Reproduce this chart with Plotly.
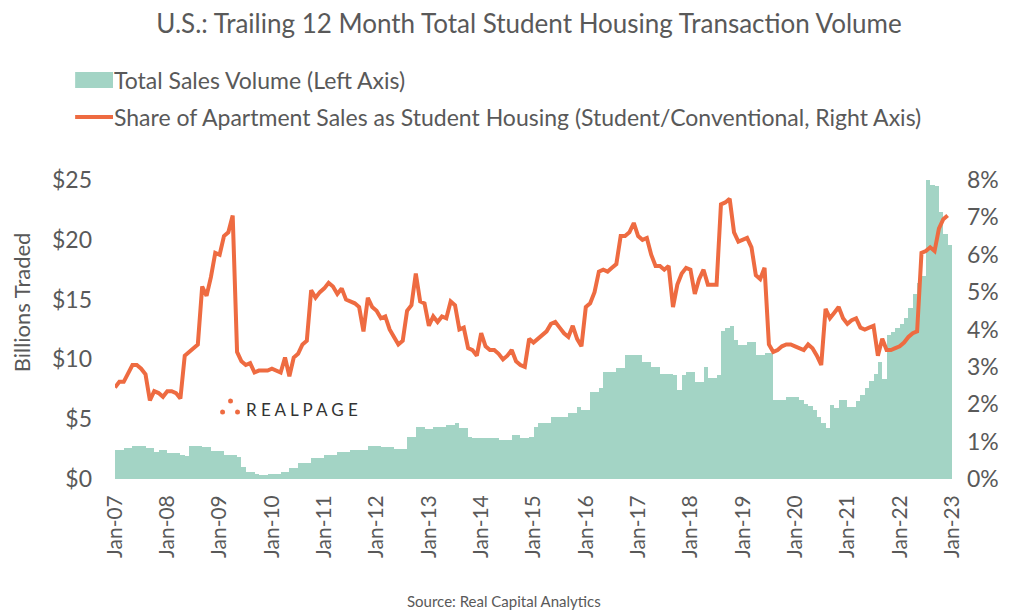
"""Trailing 12 month student housing transaction volume (bars) vs share of apartment sales (line)."""

import plotly.graph_objects as go

TEAL = "#A3D4C5"
ORANGE = "#EE6B41"
TEXT = "#595959"
FONT = "Lato"

# monthly values, Jan-07 .. Dec-22 (one row per year)
volume_bn = [
    2.4, 2.4, 2.6, 2.6, 2.75, 2.75, 2.75, 2.6, 2.6, 2.25, 2.4, 2.4,        # 2007
    2.15, 2.15, 2.15, 2.0, 1.95, 2.75, 2.75, 2.75, 2.65, 2.65, 2.3, 2.3,   # 2008
    2.3, 2.0, 2.0, 2.0, 1.85, 1.0, 0.6, 0.6, 0.45, 0.35, 0.35, 0.45,       # 2009
    0.45, 0.45, 0.6, 0.6, 0.9, 0.9, 1.3, 1.3, 1.3, 1.75, 1.75, 1.75,       # 2010
    2.0, 2.0, 2.0, 2.25, 2.25, 2.25, 2.4, 2.4, 2.4, 2.4, 2.75, 2.75,       # 2011
    2.75, 2.7, 2.7, 2.65, 2.5, 2.5, 2.5, 3.5, 3.5, 4.35, 4.35, 4.15,       # 2012
    4.15, 4.35, 4.35, 4.35, 4.5, 4.55, 4.65, 4.3, 4.25, 3.5, 3.45, 3.4,    # 2013
    3.4, 3.4, 3.4, 3.4, 3.25, 3.25, 3.25, 3.7, 3.7, 3.4, 3.4, 3.5,         # 2014
    4.35, 4.65, 4.65, 4.65, 5.2, 5.2, 5.2, 5.2, 5.5, 5.5, 6.0, 5.75,       # 2015
    5.75, 7.3, 7.3, 7.6, 8.95, 8.95, 8.95, 9.3, 9.3, 10.4, 10.4, 10.4,     # 2016
    10.4, 9.8, 9.8, 9.35, 9.35, 8.75, 8.75, 8.75, 8.7, 7.45, 8.7, 8.95,    # 2017
    8.95, 8.1, 8.1, 9.35, 8.45, 8.45, 8.7, 12.4, 12.6, 12.8, 11.6, 11.2,   # 2018
    11.2, 11.45, 11.45, 10.4, 10.4, 10.5, 10.5, 6.6, 6.6, 6.6, 6.85, 6.85, # 2019
    6.85, 6.6, 6.3, 6.1, 5.75, 5.2, 4.65, 4.3, 6.2, 5.9, 6.6, 6.6,         # 2020
    6.0, 6.0, 6.5, 7.0, 7.6, 8.2, 8.8, 9.8, 8.4, 12.0, 12.3, 12.6,         # 2021
    13.0, 13.5, 14.3, 15.5, 16.4, 17.0, 25.2, 24.6, 24.5, 22.3, 20.5, 19.6, # 2022
]

student_share_pct = [
    2.45, 2.6, 2.6, 2.8, 3.05, 3.05, 2.95, 2.8, 2.1, 2.35, 2.3, 2.2,       # 2007
    2.35, 2.35, 2.3, 2.15, 3.3, 3.4, 3.5, 3.6, 5.15, 4.9, 5.4, 6.05,       # 2008
    6.0, 6.5, 6.6, 7.05, 3.4, 3.15, 3.05, 3.1, 2.85, 2.9, 2.9, 2.9,        # 2009
    2.95, 2.9, 2.85, 3.25, 2.75, 3.25, 3.35, 3.6, 3.7, 5.05, 4.85, 5.0,    # 2010
    5.1, 5.25, 5.15, 4.95, 5.1, 4.8, 4.75, 4.7, 4.6, 3.95, 4.85, 4.6,      # 2011
    4.5, 4.3, 4.35, 4.0, 3.8, 3.6, 3.7, 4.5, 4.65, 5.5, 4.75, 4.7,         # 2012
    4.1, 4.35, 4.2, 4.35, 4.3, 4.75, 4.65, 4.0, 4.05, 3.5, 3.45, 3.3,      # 2013
    3.9, 3.55, 3.45, 3.45, 3.35, 3.2, 3.3, 3.45, 3.15, 3.05, 3.0, 3.75,    # 2014
    3.65, 3.75, 3.85, 3.95, 4.15, 4.2, 4.05, 3.9, 3.8, 4.1, 3.75, 3.55,    # 2015
    4.6, 4.7, 5.0, 5.55, 5.6, 5.55, 5.65, 5.75, 6.5, 6.5, 6.6, 6.85,       # 2016
    6.5, 6.4, 6.45, 6.0, 5.7, 5.7, 5.6, 5.7, 4.6, 5.2, 5.5, 5.65,          # 2017
    5.6, 4.95, 5.35, 5.6, 5.2, 5.2, 5.2, 7.35, 7.4, 7.5, 6.6, 6.35,        # 2018
    6.4, 6.45, 6.2, 5.45, 5.35, 5.65, 3.6, 3.4, 3.45, 3.55, 3.6, 3.6,      # 2019
    3.55, 3.5, 3.45, 3.6, 3.5, 3.3, 3.05, 4.55, 4.3, 4.45, 4.6, 4.3,       # 2020
    4.15, 4.25, 4.3, 4.05, 4.0, 4.05, 4.1, 3.3, 3.75, 3.45, 3.45, 3.5,     # 2021
    3.55, 3.65, 3.8, 3.9, 3.95, 6.05, 6.1, 6.2, 6.1, 6.7, 6.95, 7.05,      # 2022
]

year_labels = ["Jan-%02d" % y for y in range(7, 24)]
left_ticks = [0, 5, 10, 15, 20, 25]
right_ticks = [0, 1, 2, 3, 4, 5, 6, 7, 8]

months = list(range(len(volume_bn)))

# the page body has an 8px margin, so the figure is drawn 8px smaller
PAGE_W, PAGE_H, BODY = 1011, 613, 8
W, H = PAGE_W - BODY, PAGE_H - BODY
# plot area in page pixels
PL, PR, PT, PB = 115, 955, 180, 479


def px_x(px):
    return (px - PL) / (PR - PL)


def px_y(py):
    return (PB - py) / (PB - PT)


fig = go.Figure()

fig.add_trace(go.Bar(
    name="Total Sales Volume (Left Axis)",
    x=[m + 0.5 for m in months],
    y=volume_bn,
    width=1,
    marker=dict(color=TEAL, line=dict(width=0)),
    hovertemplate="$%{y:.1f}B<extra></extra>",
))

fig.add_trace(go.Scatter(
    name="Share of Apartment Sales as Student Housing (Student/Conventional, Right Axis)",
    x=months,
    y=student_share_pct,
    yaxis="y2",
    mode="lines",
    line=dict(color=ORANGE, width=4),
    hovertemplate="%{y:.2f}%<extra></extra>",
))

fig.update_layout(
    width=W,
    height=H,
    margin=dict(l=PL - BODY, r=PAGE_W - PR, t=PT - BODY, b=PAGE_H - PB),
    paper_bgcolor="white",
    plot_bgcolor="white",
    showlegend=False,
    bargap=0,
    font=dict(family=FONT, color=TEXT, size=20),
    title=dict(
        text="U.S.: Trailing 12 Month Total Student Housing Transaction Volume",
        x=(529 - BODY) / W, xanchor="center",
        y=1 - (24 - BODY) / H, yanchor="middle",
        font=dict(family=FONT, size=26, color=TEXT),
    ),
    xaxis=dict(
        range=[0, len(months)],
        tickvals=[12 * i for i in range(len(year_labels))],
        ticktext=year_labels,
        tickangle=-90,
        tickfont=dict(size=21, color=TEXT),
        showgrid=False, zeroline=False, showline=False, ticks="",
        ticklabelstandoff=11,
    ),
    yaxis=dict(
        range=[0, 25],
        tickvals=left_ticks,
        ticktext=["$%d" % v for v in left_ticks],
        tickfont=dict(size=23, color=TEXT),
        showgrid=False, zeroline=False, showline=False, ticks="",
        ticklabelstandoff=22,
    ),
    yaxis2=dict(
        range=[0, 8],
        overlaying="y",
        side="right",
        tickvals=right_ticks,
        ticktext=["%d%%" % v for v in right_ticks],
        tickfont=dict(size=23, color=TEXT),
        showgrid=False, zeroline=False, showline=False, ticks="",
        ticklabelstandoff=14,
    ),
)

# left axis title
fig.add_annotation(text="Billions Traded", xref="paper", yref="paper",
                   x=px_x(21), y=px_y(302), textangle=-90,
                   xanchor="center", yanchor="middle", showarrow=False,
                   font=dict(size=22, color=TEXT))

# hand-made legend (wide swatches like the original)
fig.add_shape(type="rect", xref="paper", yref="paper",
              x0=px_x(75), x1=px_x(113), y0=px_y(88), y1=px_y(72),
              fillcolor=TEAL, line=dict(width=0))
fig.add_shape(type="line", xref="paper", yref="paper",
              x0=px_x(75), x1=px_x(113), y0=px_y(117), y1=px_y(117),
              line=dict(color=ORANGE, width=4))
fig.add_annotation(text="Total Sales Volume (Left Axis)", xref="paper", yref="paper",
                   x=px_x(112), y=px_y(80), xanchor="left", yanchor="middle",
                   showarrow=False, font=dict(size=23, color=TEXT))
fig.add_annotation(text="Share of Apartment Sales as Student Housing (Student/Conventional, Right Axis)",
                   xref="paper", yref="paper",
                   x=px_x(112), y=px_y(117), xanchor="left", yanchor="middle",
                   showarrow=False, font=dict(size=23, color=TEXT))

# RealPage logo
for cx, cy in [(231, 401), (223, 412), (238, 412)]:
    fig.add_shape(type="circle", xref="paper", yref="paper",
                  x0=px_x(cx - 2.5), x1=px_x(cx + 2.5), y0=px_y(cy + 2.5), y1=px_y(cy - 2.5),
                  fillcolor=ORANGE, line=dict(width=0))
fig.add_annotation(text="R E A L P A G E", xref="paper", yref="paper",
                   x=px_x(244), y=px_y(409), xanchor="left", yanchor="middle",
                   showarrow=False, font=dict(size=17, color="#333333"))

fig.add_annotation(text="Source: Real Capital Analytics", xref="paper", yref="paper",
                   x=px_x(505), y=px_y(601), xanchor="center", yanchor="middle",
                   showarrow=False, font=dict(size=15, color=TEXT))

fig.write_html("out.html")
